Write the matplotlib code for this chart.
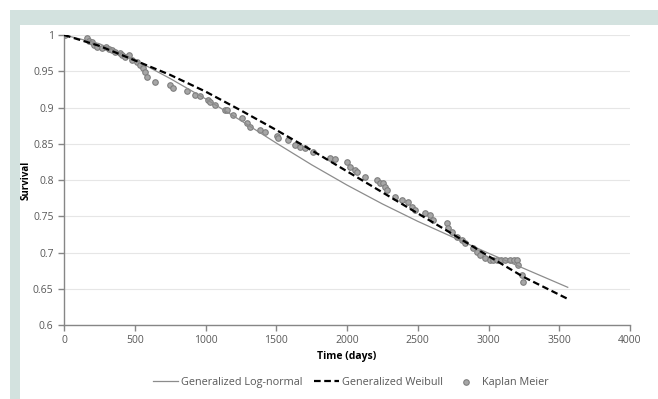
import matplotlib
matplotlib.use('Agg')
import matplotlib.pyplot as plt
from matplotlib.patches import Rectangle

plt.rcParams['font.family'] = ['Open Sans', 'DejaVu Sans']

# Fitted curves
fit_days = [0, 250, 500, 750, 1000, 1250, 1500, 1750, 2000, 2250, 2500, 2750, 3000, 3250, 3560]
lognormal = [1.0, 0.988, 0.966, 0.940, 0.912, 0.882, 0.851, 0.821, 0.793, 0.767, 0.743, 0.721, 0.699, 0.678, 0.652]
weibull = [1.0, 0.985, 0.965, 0.945, 0.922, 0.896, 0.869, 0.841, 0.812, 0.783, 0.754, 0.725, 0.695, 0.666, 0.636]

# Kaplan Meier estimates
km_days = [7, 162, 180, 198, 215, 233, 269, 300, 320, 339, 360, 396, 410, 431, 460, 481, 516, 537,
           558, 572, 587, 643, 749, 770, 869, 926, 961, 1018, 1032, 1067, 1138, 1152, 1194, 1258,
           1293, 1314, 1385, 1420, 1505, 1512, 1583, 1633, 1668, 1700, 1760, 1880, 1915, 2000,
           2021, 2057, 2071, 2127, 2212, 2233, 2254, 2269, 2283, 2339, 2389, 2431, 2459, 2481,
           2551, 2587, 2608, 2707, 2714, 2742, 2777, 2813, 2834, 2890, 2919, 2940, 2975, 3011,
           3032, 3060, 3090, 3120, 3150, 3180, 3201, 3208, 3237, 3244]
km_surv = [1.0, 0.996, 0.992, 0.990, 0.986, 0.983, 0.982, 0.984, 0.981, 0.979, 0.977, 0.975, 0.973,
           0.970, 0.972, 0.966, 0.963, 0.959, 0.954, 0.949, 0.942, 0.935, 0.931, 0.927, 0.923,
           0.917, 0.916, 0.910, 0.907, 0.903, 0.896, 0.896, 0.890, 0.886, 0.879, 0.873, 0.869,
           0.866, 0.861, 0.858, 0.855, 0.848, 0.846, 0.844, 0.839, 0.830, 0.829, 0.825, 0.818,
           0.814, 0.811, 0.804, 0.800, 0.796, 0.796, 0.790, 0.786, 0.777, 0.772, 0.770, 0.763,
           0.759, 0.754, 0.752, 0.745, 0.741, 0.734, 0.728, 0.721, 0.717, 0.713, 0.706, 0.701,
           0.697, 0.692, 0.690, 0.689, 0.689, 0.689, 0.689, 0.689, 0.689, 0.689, 0.683, 0.669,
           0.659]

fig = plt.figure(figsize=(6.58, 3.99), dpi=100)
W, H = 658, 399
teal = '#d3e2df'
# frame bands around the white panel
fig.patches.append(Rectangle((10 / W, 1 - 25 / H), 1 - 10 / W, 15 / H, transform=fig.transFigure,
                             facecolor=teal, edgecolor='none', zorder=0))
fig.patches.append(Rectangle((10 / W, 0), 10 / W, 1 - 10 / H, transform=fig.transFigure,
                             facecolor=teal, edgecolor='none', zorder=0))

ax = fig.add_axes([64 / W, 1 - 325 / H, (630 - 64) / W, (325 - 35) / H])

ax.plot(fit_days, lognormal, color='#8c8c8c', lw=0.9, label='Generalized Log-normal', zorder=3)
ax.plot(fit_days, weibull, color='black', lw=1.6, ls=(0, (3, 1.6)), label='Generalized Weibull', zorder=4)
ax.scatter(km_days, km_surv, s=16, facecolor='#a6a6a6', edgecolor='#7f7f7f', lw=0.8,
           label='Kaplan Meier', zorder=2)

ax.set_xlim(0, 4000)
ax.set_ylim(0.6, 1.0)
ax.set_xticks(range(0, 4001, 500))
ax.set_yticks([0.6, 0.65, 0.7, 0.75, 0.8, 0.85, 0.9, 0.95, 1.0])
ax.set_yticklabels(['0.6', '0.65', '0.7', '0.75', '0.8', '0.85', '0.9', '0.95', '1'])
ax.grid(axis='y', color='#e6e6e6', lw=0.8)
ax.set_axisbelow(True)
for s in ['top', 'right']:
    ax.spines[s].set_visible(False)
for s in ['left', 'bottom']:
    ax.spines[s].set_color('#868686')
    ax.spines[s].set_linewidth(1.0)
ax.tick_params(colors='#868686', labelcolor='#595959', labelsize=7.5, length=4, width=1)

ax.set_xlabel('Time (days)', fontsize=7.5, fontweight='bold', labelpad=3)
ax.set_ylabel('Survival', fontsize=7, fontweight='bold')
ax.yaxis.set_label_coords(-0.058, 0.5)

ax.legend(loc='center', bbox_to_anchor=(0.507, -0.197), ncol=3, frameon=False,
          fontsize=7.8, labelcolor='#595959', handlelength=2.3, columnspacing=1.0,
          handletextpad=0.3)

fig.savefig('out.png', dpi=100)
